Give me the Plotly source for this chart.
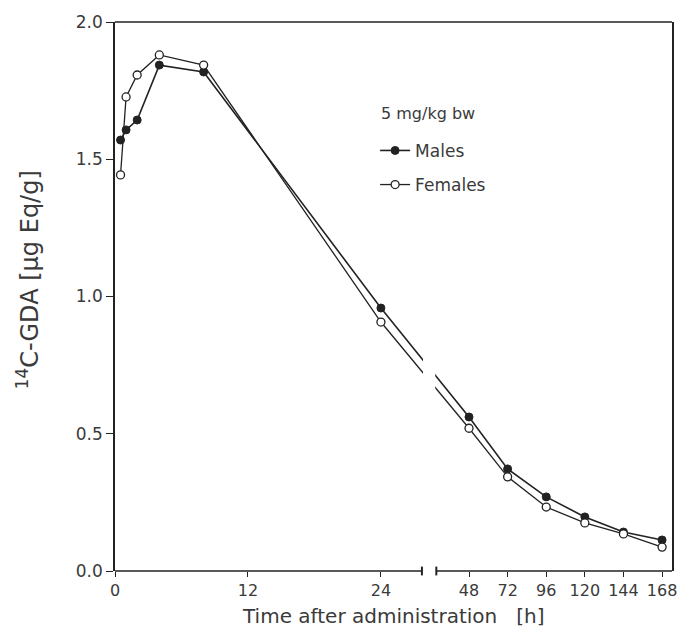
import plotly.graph_objects as go

# ---- data ----
times_h = [0.5, 1, 2, 4, 8, 24, 48, 72, 96, 120, 144, 168]
males = [1.57, 1.607, 1.643, 1.843, 1.818, 0.958, 0.561, 0.372, 0.27, 0.197, 0.142, 0.113]
females = [1.443, 1.727, 1.807, 1.88, 1.843, 0.907, 0.52, 0.343, 0.233, 0.175, 0.135, 0.087]
tick_hours = [0, 12, 24, 48, 72, 96, 120, 144, 168]
tick_labels = ["0", "12", "24", "48", "72", "96", "120", "144", "168"]
y_ticks = [0.0, 0.5, 1.0, 1.5, 2.0]
y_labels = ["0.0", "0.5", "1.0", "1.5", "2.0"]
legend_title = "5 mg/kg bw"
y_title = "<sup>14</sup>C-GDA [µg Eq/g]"
x_title = "Time after administration   [h]"

# broken time axis: linear up to 24 h, compressed after the break
def brk(t):
    if t <= 24:
        return float(t)
    return 31.95 + (t - 48) * 0.1452

X_MAX = 50.27
BREAK_L = 27.7
BREAK_R = 29.0

xs = [brk(t) for t in times_h]
ink = "#222222"
txt = "#3a3a3a"
font = "DejaVu Sans, Arial, sans-serif"

fig = go.Figure()
fig.add_trace(go.Scatter(
    x=xs, y=males, mode="lines+markers", name="Males", legendgroup="m",
    line=dict(color=ink, width=1.6),
    marker=dict(symbol="circle", size=8, color=ink, line=dict(color=ink, width=1)),
))
fig.add_trace(go.Scatter(
    x=xs, y=females, mode="lines+markers", name="Females", legendgroup="f",
    line=dict(color=ink, width=1.3),
    marker=dict(symbol="circle", size=8, color="white", line=dict(color=ink, width=1.3)),
))

shapes = [
    # gap in the lines at the axis break
    dict(type="rect", xref="x", yref="y", x0=BREAK_L + 0.1, x1=BREAK_R - 0.1,
         y0=0.5, y1=0.9, fillcolor="white", line=dict(width=0), layer="above"),
    # top frame
    dict(type="line", xref="paper", yref="paper", x0=0, x1=1, y0=1, y1=1,
         line=dict(color=ink, width=1.5)),
    # bottom axis, two segments
    dict(type="line", xref="x", yref="paper", x0=0, x1=BREAK_L, y0=0, y1=0,
         line=dict(color=ink, width=1.5)),
    dict(type="line", xref="x", yref="paper", x0=BREAK_R, x1=X_MAX, y0=0, y1=0,
         line=dict(color=ink, width=1.5)),
    # break marks
    dict(type="line", xref="x", yref="paper", x0=BREAK_L, x1=BREAK_L, y0=-0.008, y1=0.008,
         line=dict(color=ink, width=2)),
    dict(type="line", xref="x", yref="paper", x0=BREAK_R, x1=BREAK_R, y0=-0.008, y1=0.008,
         line=dict(color=ink, width=2)),
]

annotations = [
    dict(text=legend_title, xref="paper", yref="paper", x=0.4745, y=0.834,
         xanchor="left", yanchor="middle", showarrow=False,
         font=dict(size=16, color=txt)),
    dict(text=y_title, xref="paper", yref="paper", x=-0.156, y=0.53,
         xanchor="center", yanchor="middle", textangle=-90, showarrow=False,
         font=dict(size=24, color=txt)),
    dict(text=x_title, xref="paper", yref="paper", x=0.5, y=-0.082,
         xanchor="center", yanchor="middle", showarrow=False,
         font=dict(size=20, color=txt)),
]

fig.update_layout(
    width=681, height=637,
    margin=dict(l=115, r=9, t=22, b=66),
    paper_bgcolor="white", plot_bgcolor="white",
    font=dict(family=font, color=txt, size=16),
    shapes=shapes,
    annotations=annotations,
    showlegend=True,
    legend=dict(
        x=0.467, y=0.798, xanchor="left", yanchor="top",
        bgcolor="rgba(0,0,0,0)",
        font=dict(size=17, color=txt),
        itemwidth=30, tracegroupgap=9,
    ),
    xaxis=dict(
        range=[0, X_MAX], showline=False, showgrid=False, zeroline=False,
        automargin=False,
        tickmode="array", tickvals=[brk(t) for t in tick_hours], ticktext=tick_labels,
        ticks="outside", ticklen=5, tickwidth=1.2, tickcolor=ink,
        tickfont=dict(size=16, color=txt),
    ),
    yaxis=dict(
        range=[0, 2.0], showline=True, mirror=True, linecolor=ink, linewidth=1.5,
        showgrid=False, zeroline=False, automargin=False,
        tickmode="array", tickvals=y_ticks, ticktext=y_labels,
        ticks="outside", ticklen=7, tickwidth=1.2, tickcolor=ink,
        tickfont=dict(size=17, color=txt),
    ),
)

fig.write_html(
    "out.html",
    config={"displayModeBar": False},
    post_script="document.body.style.margin='0';document.body.style.overflow='hidden';",
)
